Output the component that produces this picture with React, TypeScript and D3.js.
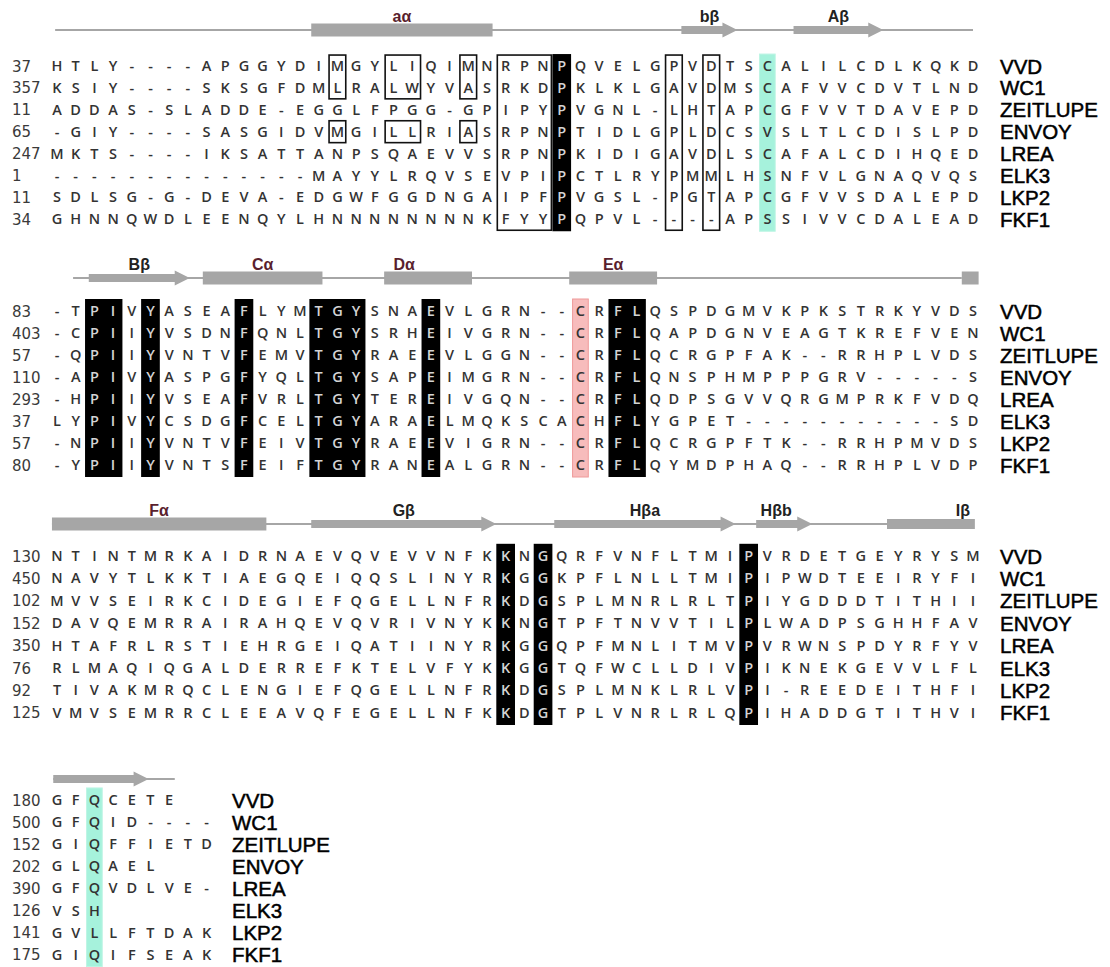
import React from "react";
import * as d3 from "d3";

const names = ["VVD", "WC1", "ZEITLUPE", "ENVOY", "LREA", "ELK3", "LKP2", "FKF1"];

const block1Seqs = [
  "HTLY----APGGYDIMGYLIQIMNRPNPQVELGPVDTSCALILCDLKQKD",
  "KSIY----SKSGFDMLRALWYVASRKDPKLKLGAVDMSCAFVVCDVTLND",
  "ADDAS-SLADDE-EGGLFPGG-GPIPYPVGNL-LHTAPCGFVVTDAVEPD",
  "-GIY----SASGIDVMGILLRIASRPNPTIDLGPLDCSVSLTLCDISLPD",
  "MKTS----IKSATTANPSQAEVVSRPNPKIDIGAVDLSCAFALCDIHQED",
  "--------------MAYYLRQVSEVPIPCTLRYPMMLHSNFVLGNAQVQS",
  "SDLSG-G-DEVA-EDGWFGGDNGAIPFPVGSL-PGTAPCGFVVSDALEPD",
  "GHNNQWDLEENQYLHNNNNNNNNKFYYPQPVL----APSSIVVCDALEAD",
];
const block2Seqs = [
  "-TPIVYASEAFLYMTGYSNAEVLGRN--CRFLQSPDGMVKPKSTRKYVDS",
  "-CPIIYVSDNFQNLTGYSRHEIVGRN--CRFLQAPDGNVEAGTKREFVEN",
  "-QPIIYVNTVFEMVTGYRAEEVLGGN--CRFLQCRGPFAK--RRHPLVDS",
  "-APIVYASPGFYQLTGYSAPEIMGRN--CRFLQNSPHMPPPGRV-----S",
  "-HPIIYVSEAFVRLTGYTEREIVGQN--CRFLQDPSGVVQRGMPRKFVDQ",
  "LYPIVYCSDGFCELTGYARAELMQKSCACHFLYGPET-----------SD",
  "-NPIIYVNTVFEIVTGYRAEEVIGRN--CRFLQCRGPFTK--RRHPMVDS",
  "-YPIIYVNTSFEIFTGYRANEALGRN--CRFLQYMDPHAQ--RRHPLVDP",
];
const block3Seqs = [
  "NTINTMRKAIDRNAEVQVEVVNFKKNGQRFVNFLTMIPVRDETGEYRYSM",
  "NAVYTLKKTIAEGQEIQQSLINYRKGGKPFLNLLTMIPIPWDTEEIRYFI",
  "MVVSEIRKCIDEGIEFQGELLNFRKDGSPLMNRLRLTPIYGDDDTITHII",
  "DAVQEMRRAIRAHQEVQVRIVNYKKNGTPFTNVVTILPLWADPSGHHFAV",
  "HTAFRLRSTIEHRGEIQATIINYRKGGQPFMNLITMVPVRWNSPDYRFYV",
  "RLMAQIQGALDERREFKTELVFYKKGGTQFWCLLDIVPIKNEKGEVVLFL",
  "TIVAKMRQCLENGIEFQGELLNFRKDGSPLMNKLRLVPI-REEDEITHFI",
  "VMVSEMRRCLEEAVQFEGELLNFKKDGTPLVNRLRLQPIHADDGTITHVI",
];
const block4Seqs = ["GFQCETE", "GFQID----", "GIQFFIETD", "GLQAEL", "GFQVDLVE-", "VSH", "GVLLFTDAK", "GIQIFSEAK"];

const block1Starts = [37, 357, 11, 65, 247, 1, 11, 34];
const block2Starts = [83, 403, 57, 110, 293, 37, 57, 80];
const block3Starts = [130, 450, 102, 152, 350, 76, 92, 125];
const block4Starts = [180, 500, 152, 202, 390, 126, 141, 175];

// secondary structure: [kind, fromCol, toCol, label]
const block1SS: [string, number, number, string][] = [
  ["line", -0.1, 49.0, ""],
  ["helix", 13.6, 23.3, "aα"],
  ["strand", 33.4, 36.4, "bβ"],
  ["strand", 39.4, 44.2, "Aβ"],
];
const block2SS: [string, number, number, string][] = [
  ["line", 0.86, 48.4, ""],
  ["strand", 1.7, 7.1, "Bβ"],
  ["helix", 7.8, 14.2, "Cα"],
  ["helix", 17.5, 22.2, "Dα"],
  ["helix", 27.4, 32.1, "Eα"],
  ["helix", 48.4, 49.3, ""],
];
const block3SS: [string, number, number, string][] = [
  ["line", -0.27, 49.0, ""],
  ["helix", -0.27, 11.2, "Fα"],
  ["strand", 13.6, 23.5, "Gβ"],
  ["strand", 26.6, 36.3, "Hβa"],
  ["strand", 37.4, 40.4, "Hβb"],
  ["bar", 44.4, 49.1, "Iβ"],
];
const block4SS: [string, number, number, string][] = [
  ["line", -0.2, 6.3, ""],
  ["strand", -0.2, 4.9, ""],
];

// highlights: [kind, col0, col1, row0, row1]
const block1Marks: [string, number, number, number, number][] = [
  ["box", 15, 15, 0, 1],
  ["box", 18, 19, 0, 1],
  ["box", 22, 22, 0, 1],
  ["box", 15, 15, 3, 3],
  ["box", 18, 19, 3, 3],
  ["box", 22, 22, 3, 3],
  ["box", 24, 26, 0, 7],
  ["black", 27, 27, 0, 7],
  ["box", 33, 33, 0, 7],
  ["box", 35, 35, 0, 7],
  ["cyan", 38, 38, 0, 7],
];
const block2Marks: [string, number, number, number, number][] = [
  ["black", 2, 3, 0, 7],
  ["black", 5, 5, 0, 7],
  ["black", 10, 10, 0, 7],
  ["black", 14, 16, 0, 7],
  ["black", 20, 20, 0, 7],
  ["pink", 28, 28, 0, 7],
  ["black", 30, 31, 0, 7],
];
const block3Marks: [string, number, number, number, number][] = [
  ["black", 24, 24, 0, 7],
  ["black", 26, 26, 0, 7],
  ["black", 37, 37, 0, 7],
];
const block4Marks: [string, number, number, number, number][] = [["cyan", 2, 2, 0, 7]];

const blocks = [
  { seqs: block1Seqs, starts: block1Starts, ss: block1SS, marks: block1Marks, top: 66, step: 21.9, ssY: 30, nameX: 1000 },
  { seqs: block2Seqs, starts: block2Starts, ss: block2SS, marks: block2Marks, top: 311, step: 22, ssY: 278, nameX: 1000 },
  { seqs: block3Seqs, starts: block3Starts, ss: block3SS, marks: block3Marks, top: 556, step: 22.4, ssY: 524, nameX: 1000 },
  { seqs: block4Seqs, starts: block4Starts, ss: block4SS, marks: block4Marks, top: 800, step: 22.1, ssY: 779, nameX: 232 },
];

const GRAY = "#a6a6a6";
const HELIX_LABEL = "#5a1f2e";

function Block({ b }: { b: (typeof blocks)[number] }) {
  const x = d3.scaleLinear().domain([0, 49]).range([57, 973]);
  const y = d3.scaleLinear().domain([0, 7]).range([b.top, b.top + 7 * b.step]);
  const cw = x(1) - x(0);
  const blackSet = new Set<string>();
  b.marks.forEach(([k, c0, c1, r0, r1]) => {
    if (k === "black") for (let c = c0; c <= c1; c++) for (let r = r0; r <= r1; r++) blackSet.add(c + "," + r);
  });
  return (
    <g>
      {b.ss.map(([kind, a, e, label], i) => {
        const x0 = x(a);
        const x1 = x(e);
        const yy = b.ssY;
        let shape: React.ReactNode = null;
        if (kind === "line") shape = <line x1={x0} x2={x1} y1={yy} y2={yy} stroke={GRAY} strokeWidth={2} />;
        else if (kind === "helix" || kind === "bar")
          shape = <rect x={x0} y={yy - (kind === "bar" ? 5 : 6.5)} width={x1 - x0} height={kind === "bar" ? 10 : 13} fill={GRAY} />;
        else if (kind === "strand") {
          const hl = 15;
          const p = d3.path();
          p.moveTo(x0, yy - 4);
          p.lineTo(x1 - hl, yy - 4);
          p.lineTo(x1 - hl, yy - 7.5);
          p.lineTo(x1, yy);
          p.lineTo(x1 - hl, yy + 7.5);
          p.lineTo(x1 - hl, yy + 4);
          p.lineTo(x0, yy + 4);
          p.closePath();
          shape = <path d={p.toString()} fill={GRAY} />;
        }
        const isHelix = label.includes("α");
        let lx = (x0 + x1) / 2;
        if (kind === "bar") lx = x1 - 12;
        if (label === "Hβb") lx = x0 + 20;
        if (label === "Dα") lx = x0 + 20;
        return (
          <g key={i}>
            {shape}
            {label && (
              <text
                x={lx}
                y={yy - 8}
                textAnchor="middle"
                fontFamily="'Liberation Sans', Arial, sans-serif"
                fontWeight="bold"
                fontSize={16}
                fill={isHelix ? HELIX_LABEL : "#222"}
              >
                {label}
              </text>
            )}
          </g>
        );
      })}
      {b.marks
        .filter((m) => m[0] !== "box")
        .map(([k, c0, c1, r0, r1], i) => {
          const fill = k === "black" ? "#000" : k === "cyan" ? "#a6f2dc" : "#f7bcbc";
          const stroke = k === "pink" ? "#ef9a9a" : k === "cyan" ? "#bdf5e4" : "none";
          const pad = k === "black" ? 0 : 1.5;
          return (
            <rect
              key={i}
              x={x(c0) - cw / 2 + pad}
              y={y(r0) - b.step / 2 - 1}
              width={x(c1) - x(c0) + cw - 2 * pad}
              height={y(r1) - y(r0) + b.step + 2}
              fill={fill}
              stroke={stroke}
              strokeWidth={1}
            />
          );
        })}
      {b.seqs.map((s, r) =>
        s.split("").map((ch, c) => (
          <text
            key={r + "-" + c}
            x={x(c)}
            y={y(r) + 5}
            textAnchor="middle"
            fontFamily="'Open Sans', 'DejaVu Sans', sans-serif"
            fontWeight={600}
            fontSize={14.5}
            fill={blackSet.has(c + "," + r) ? "#d4d4d4" : "#333"}
          >
            {ch}
          </text>
        ))
      )}
      {b.marks
        .filter((m) => m[0] === "box")
        .map(([, c0, c1, r0, r1], i) => (
          <rect
            key={i}
            x={x(c0) - cw / 2 + 1}
            y={y(r0) - b.step / 2}
            width={x(c1) - x(c0) + cw - 2}
            height={y(r1) - y(r0) + b.step}
            fill="none"
            stroke="#111"
            strokeWidth={1.6}
          />
        ))}
      {b.starts.map((n, r) => (
        <text key={"n" + r} x={12} y={y(r) + 5.5} fontFamily="'DejaVu Sans', sans-serif" fontSize={15} fill="#3a3a3a">
          {n}
        </text>
      ))}
      {names.map((nm, r) => (
        <text
          key={"nm" + r}
          x={b.nameX}
          y={y(r) + 7.5}
          fontFamily="'Liberation Sans', Arial, sans-serif"
          fontSize={20.5}
          fill="#000"
          stroke="#000"
          strokeWidth={0.5}
        >
          {nm}
        </text>
      ))}
    </g>
  );
}

export default function App() {
  return (
    <svg width={1110} height={967} style={{ position: "absolute", left: 0, top: 0, background: "#fff" }}>
      <rect width={1110} height={967} fill="#fff" />
      {blocks.map((b, i) => (
        <Block key={i} b={b} />
      ))}
    </svg>
  );
}
